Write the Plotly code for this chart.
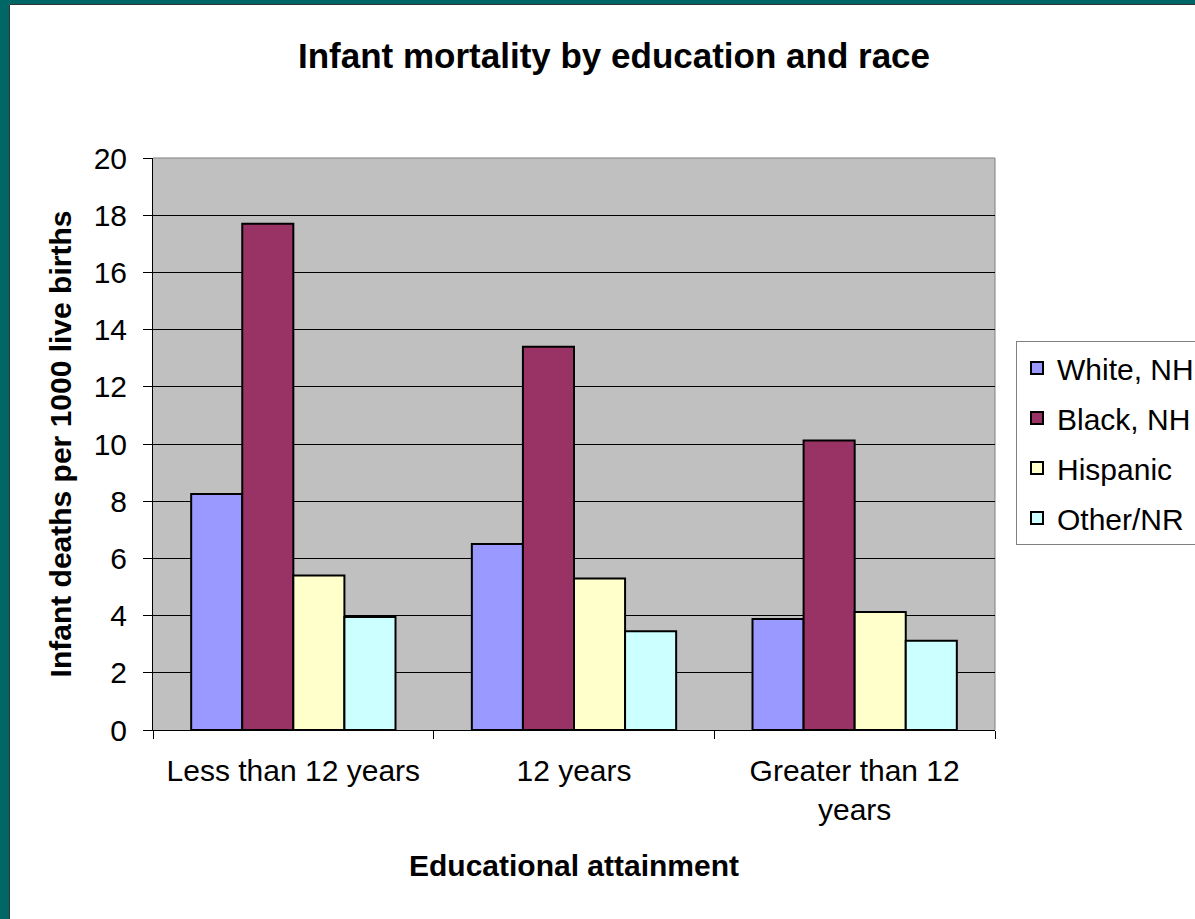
import plotly.graph_objects as go

# Infant deaths per 1000 live births, by mother's educational attainment
categories = ["Less than 12 years", "12 years", "Greater than 12<br>years"]
series_names = ["White, NH", "Black, NH", "Hispanic", "Other/NR"]
white_nh = [8.25, 6.5, 3.88]
black_nh = [17.7, 13.4, 10.12]
hispanic = [5.4, 5.3, 4.13]
other_nr = [3.95, 3.45, 3.12]
y_ticks = [0, 2, 4, 6, 8, 10, 12, 14, 16, 18, 20]

series_values = [white_nh, black_nh, hispanic, other_nr]
series_colors = ["#9999FF", "#993366", "#FFFFCC", "#CCFFFF"]

W, H = 1195, 919
ML, MR, MT, MB = 153, 200, 158, 189
PW, PH = W - ML - MR, H - MT - MB
FONT = "Liberation Sans, Arial, sans-serif"


def px_x(p):
    return (p - ML) / PW


def px_y(p):
    return (H - MB - p) / PH


fig = go.Figure()
for i, (name, vals, col) in enumerate(zip(series_names, series_values, series_colors)):
    fig.add_trace(go.Bar(
        x=categories, y=vals, name=name, legendgroup=f"g{i}",
        marker=dict(color=col, line=dict(color="#000000", width=2)),
    ))

# slide-style frame: teal band on left and top with a thin dark edge
shapes = [
    dict(type="rect", xref="paper", yref="paper", x0=px_x(0), x1=px_x(9),
         y0=px_y(H), y1=px_y(0), fillcolor="#006666", line=dict(width=0), layer="above"),
    dict(type="rect", xref="paper", yref="paper", x0=px_x(0), x1=px_x(W),
         y0=px_y(4), y1=px_y(0), fillcolor="#006666", line=dict(width=0), layer="above"),
    dict(type="line", xref="paper", yref="paper", x0=px_x(9.5), x1=px_x(9.5),
         y0=px_y(H), y1=px_y(4.5), line=dict(color="#333333", width=1), layer="above"),
    dict(type="line", xref="paper", yref="paper", x0=px_x(9.5), x1=px_x(W),
         y0=px_y(4.5), y1=px_y(4.5), line=dict(color="#333333", width=1), layer="above"),
    # gray border on top and right of the plotting area
    dict(type="line", xref="paper", yref="paper", x0=1, x1=1, y0=0, y1=1,
         line=dict(color="#808080", width=1), layer="below"),
    dict(type="line", xref="paper", yref="paper", x0=0, x1=1, y0=1, y1=1,
         line=dict(color="#808080", width=1), layer="below"),
]

fig.update_layout(
    width=W, height=H, autosize=False,
    margin=dict(l=ML, r=MR, t=MT, b=MB, autoexpand=False),
    paper_bgcolor="#FFFFFF", plot_bgcolor="#C0C0C0",
    font=dict(family=FONT, size=30, color="#000000"),
    title=dict(text="<b>Infant mortality by education and race</b>",
               x=614 / W, xref="container", xanchor="center",
               y=1 - 56 / H, yref="container", yanchor="middle",
               font=dict(family=FONT, size=35, color="#000000")),
    barmode="group", bargap=0.272, bargroupgap=0,
    showlegend=True,
    legend=dict(x=px_x(1016), xanchor="left", y=px_y(341), yanchor="top",
                bgcolor="#FFFFFF", bordercolor="#808080", borderwidth=1,
                font=dict(family=FONT, size=30, color="#000000"),
                traceorder="grouped", tracegroupgap=8),
    shapes=shapes,
)

fig.update_xaxes(
    type="category", tickson="boundaries", ticks="outside", ticklen=8,
    tickcolor="#000000", tickwidth=1, showline=True, linecolor="#000000", linewidth=1,
    showgrid=False, tickfont=dict(family=FONT, size=30, color="#000000"),
    ticklabelstandoff=14,
    title=dict(text="<b>Educational attainment</b>", standoff=29,
               font=dict(family=FONT, size=30, color="#000000")),
    automargin=False,
)
fig.update_yaxes(
    range=[0, 20], tickvals=y_ticks, ticks="outside", ticklen=9,
    tickcolor="#000000", tickwidth=1, showline=True, linecolor="#000000", linewidth=1,
    showgrid=True, gridcolor="#000000", gridwidth=1, zeroline=False,
    tickfont=dict(family=FONT, size=30, color="#000000"),
    ticklabelstandoff=10,
    title=dict(text="<b>Infant deaths per 1000 live births</b>", standoff=13,
               font=dict(family=FONT, size=30, color="#000000")),
    automargin=False,
)

fig.write_html("out.html")
